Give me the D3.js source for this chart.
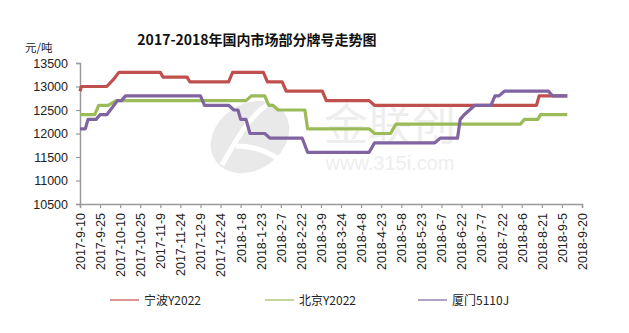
<!DOCTYPE html>
<html><head><meta charset="utf-8">
<script src="https://cdn.jsdelivr.net/npm/d3@7"></script>
<style>
html,body{margin:0;padding:0;background:#fff;}
svg{display:block;}
</style></head>
<body>
<svg id="chart" width="629" height="333"></svg>
<script>
const title = "2017-2018年国内市场部分牌号走势图";
const unitLabel = "元/吨";
const seriesNames = ["宁波Y2022", "北京Y2022", "厦门5110J"];
const seriesColors = ["#C0504D", "#9BBB59", "#8064A2"];
const yTicks = [10500, 11000, 11500, 12000, 12500, 13000, 13500];
const xTickLabels = ["2017-9-10","2017-9-25","2017-10-10","2017-10-25","2017-11-9","2017-11-24","2017-12-9","2017-12-24","2018-1-8","2018-1-23","2018-2-7","2018-2-22","2018-3-9","2018-3-24","2018-4-8","2018-4-23","2018-5-8","2018-5-23","2018-6-7","2018-6-22","2018-7-7","2018-7-22","2018-8-6","2018-8-21","2018-9-5","2018-9-20"];

// 宁波Y2022
const ningboDates = ["2017-9-10","2017-9-11","2017-9-30","2017-10-5","2017-10-9","2017-11-9","2017-11-11","2017-11-29","2017-12-1","2017-12-30","2018-1-2","2018-1-25","2018-1-28","2018-2-8","2018-2-11","2018-3-10","2018-3-13","2018-4-14","2018-4-18","2018-8-17","2018-8-19","2018-9-9"];
const ningboValues = [12900,13000,13000,13150,13300,13300,13200,13200,13100,13100,13300,13300,13100,13100,12900,12900,12700,12700,12600,12600,12800,12800];

// 北京Y2022
const beijingDates = ["2017-9-10","2017-9-21","2017-9-24","2017-10-1","2017-10-7","2018-1-12","2018-1-16","2018-1-26","2018-1-29","2018-2-1","2018-2-5","2018-2-25","2018-2-27","2018-4-14","2018-4-18","2018-4-30","2018-5-4","2018-8-5","2018-8-8","2018-8-18","2018-8-20","2018-9-9"];
const beijingValues = [12400,12400,12600,12600,12700,12700,12800,12800,12600,12600,12500,12500,12100,12100,12000,12000,12200,12200,12300,12300,12400,12400];

// 厦门5110J
const xiamenDates = ["2017-9-10","2017-9-14","2017-9-16","2017-9-22","2017-9-25","2017-9-30","2017-10-8","2017-10-11","2017-10-14","2017-12-9","2017-12-12","2017-12-30","2018-1-3","2018-1-6","2018-1-8","2018-1-12","2018-1-15","2018-1-26","2018-1-30","2018-2-23","2018-2-27","2018-4-14","2018-4-18","2018-6-2","2018-6-6","2018-6-19","2018-6-21","2018-6-24","2018-6-28","2018-7-2","2018-7-14","2018-7-17","2018-7-20","2018-7-24","2018-8-26","2018-8-29","2018-9-9"];
const xiamenValues = [12100,12100,12300,12300,12400,12400,12700,12700,12800,12800,12600,12600,12500,12500,12300,12300,12000,12000,11900,11900,11600,11600,11800,11800,11900,11900,12300,12400,12500,12600,12600,12800,12800,12900,12900,12800,12800];

const parse = d3.timeParse("%Y-%-m-%-d");
const svg = d3.select("#chart");
const mLeft = 80, mRight = 582, mTop = 63, mBottom = 204;

const x = d3.scaleTime().domain([parse(xTickLabels[0]), parse(xTickLabels[xTickLabels.length-1])]).range([mLeft, mRight]);
const y = d3.scaleLinear().domain([10500, 13500]).range([mBottom, mTop]);

// watermark
const wm = svg.append("g").attr("class","watermark");
wm.append("ellipse").attr("cx", 250).attr("cy", 137).attr("rx", 42).attr("ry", 33)
  .attr("transform","rotate(-35,250,137)").attr("fill","#e9e9e9");
wm.append("path").attr("d","M222,165 C236,140 248,118 268,104 M236,146 C252,146 266,150 280,160")
  .attr("fill","none").attr("stroke","#fff").attr("stroke-width",5);
wm.append("text").attr("x", 390).attr("y", 141).attr("text-anchor","middle")
  .attr("font-family","Noto Sans CJK SC").attr("font-size", 44).attr("fill","#eeeeee").text("金联创");
wm.append("text").attr("x", 390).attr("y", 170).attr("text-anchor","middle")
  .attr("font-family","Liberation Sans, Arial").attr("font-size", 20).attr("fill","#eeeeee").text("www.315i.com");

// title
svg.append("text").attr("x", 257).attr("y", 45).attr("text-anchor","middle")
  .attr("font-family","Noto Sans CJK SC").attr("font-weight","bold").attr("font-size", 14)
  .attr("fill","#111").text(title);
svg.append("text").attr("x", 25).attr("y", 52)
  .attr("font-family","Noto Sans CJK SC").attr("font-size", 11.5).attr("fill","#222").text(unitLabel);

// y axis
const yAxis = d3.axisLeft(y).tickValues(yTicks).tickSize(4).tickPadding(8).tickFormat(d3.format("d"));
const gy = svg.append("g").attr("transform", `translate(${mLeft},0)`).call(yAxis);
gy.select(".domain").attr("stroke","#9a9a9a").attr("stroke-width",1.5);
gy.selectAll(".tick line").attr("stroke","#9a9a9a").attr("stroke-width",1.2);
gy.selectAll(".tick text").attr("font-family","Liberation Sans, Arial").attr("font-size",12.5).attr("fill","#222");

// x axis
const xAxis = d3.axisBottom(x).tickValues(xTickLabels.map(parse)).tickSize(4)
  .tickFormat((d,i) => xTickLabels[i]);
const gx = svg.append("g").attr("transform", `translate(0,${mBottom})`).call(xAxis);
gx.select(".domain").attr("stroke","#9a9a9a").attr("stroke-width",1.5);
gx.selectAll(".tick line").attr("stroke","#9a9a9a").attr("stroke-width",1.2);
gx.selectAll(".tick text").attr("font-family","Liberation Sans, Arial").attr("font-size",12.5).attr("fill","#222")
  .attr("text-anchor","end").attr("transform","rotate(-90)").attr("x",-9).attr("y",0).attr("dy","0.35em");

// lines
const series = [
  {dates: ningboDates, values: ningboValues},
  {dates: beijingDates, values: beijingValues},
  {dates: xiamenDates, values: xiamenValues}
];
const line = d3.line().x(d => x(d[0])).y(d => y(d[1]));
series.forEach((s, i) => {
  const pts = s.dates.map((d, j) => [parse(d), s.values[j]]);
  svg.append("path").datum(pts).attr("d", line).attr("fill","none")
    .attr("stroke", seriesColors[i]).attr("stroke-width", 3.2).attr("stroke-linejoin","round");
});
// legend
const legendX = [110, 265, 418];
seriesNames.forEach((n, i) => {
  const g = svg.append("g").attr("transform", `translate(${legendX[i]},300)`);
  g.append("line").attr("x1",0).attr("x2",29).attr("y1",0).attr("y2",0)
    .attr("stroke", seriesColors[i]).attr("stroke-width",1.6).attr("opacity",0.75);
  g.append("text").attr("x",34).attr("y",0).attr("dy","0.38em")
    .attr("font-family","Noto Sans CJK SC").attr("font-size",12).attr("fill","#222").text(n);
});
</script>
</body></html>
